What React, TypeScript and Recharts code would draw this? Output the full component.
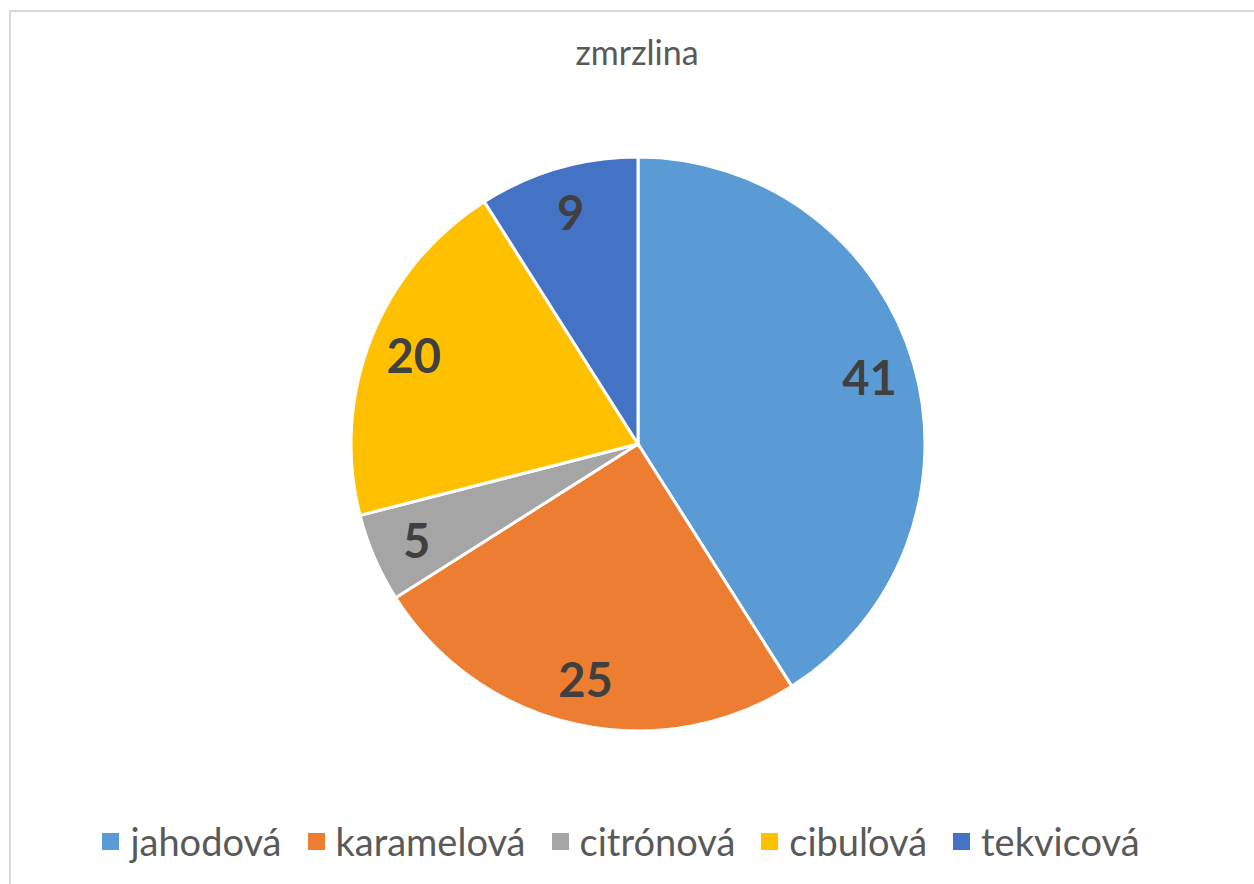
import React from 'react';
import { PieChart, Pie, Cell, Legend } from 'recharts';

// zmrzlina - pie chart with data labels
const flavors = ['jahodová', 'karamelová', 'citrónová', 'cibuľová', 'tekvicová'];
const counts = [41, 25, 5, 20, 9];
const colors = ['#5B9BD5', '#ED7D31', '#A5A5A5', '#FFC000', '#4472C4'];

const data = flavors.map((name, i) => ({ name, value: counts[i] }));

const RADIAN = Math.PI / 180;
const FONT = 'Lato, "Open Sans", sans-serif';

const renderLabel = (props: any) => {
  const { cx, cy, midAngle, outerRadius, value } = props;
  const r = outerRadius * 0.84;
  const x = cx + r * Math.cos(-midAngle * RADIAN);
  const y = cy + r * Math.sin(-midAngle * RADIAN);
  return (
    <text
      x={x}
      y={y}
      fill="#404040"
      textAnchor="middle"
      dominantBaseline="central"
      style={{ fontFamily: FONT, fontSize: 47, fontWeight: 700 }}
    >
      {value}
    </text>
  );
};

const renderLegend = () => (
  <div
    style={{
      display: 'flex',
      justifyContent: 'center',
      alignItems: 'center',
      gap: 26,
      fontFamily: FONT,
      fontSize: 38,
      color: '#595959',
      marginLeft: -12,
    }}
  >
    {flavors.map((name, i) => (
      <div key={name} style={{ display: 'flex', alignItems: 'center' }}>
        <span
          style={{
            display: 'inline-block',
            width: 17,
            height: 17,
            background: colors[i],
            marginRight: 11,
          }}
        />
        <span>{name}</span>
      </div>
    ))}
  </div>
);

export default function App() {
  return (
    <div
      style={{
        position: 'fixed',
        left: 0,
        top: 0,
        width: 1254,
        height: 884,
        overflow: 'hidden',
        background: '#fff',
      }}
    >
      <div
        style={{
          position: 'absolute',
          left: 9,
          top: 10,
          width: 1300,
          height: 900,
          border: '2px solid #d9d9d9',
        }}
      />
      <div
        style={{
          position: 'absolute',
          left: 0,
          top: 31,
          width: 1274,
          textAlign: 'center',
          fontFamily: FONT,
          fontSize: 34,
          color: '#595959',
        }}
      >
        zmrzlina
      </div>
      <div style={{ position: 'absolute', left: 0, top: 0 }}>
        <PieChart width={1254} height={884}>
          <Pie
            data={data}
            dataKey="value"
            nameKey="name"
            cx={633}
            cy={439}
            outerRadius={287}
            startAngle={90}
            endAngle={-270}
            stroke="#ffffff"
            strokeWidth={3}
            label={renderLabel}
            labelLine={false}
            isAnimationActive={false}
          >
            {data.map((d, i) => (
              <Cell key={d.name} fill={colors[i]} />
            ))}
          </Pie>
          <Legend
            content={renderLegend}
            wrapperStyle={{ position: 'absolute', top: 818, left: 0, width: 1254 }}
          />
        </PieChart>
      </div>
    </div>
  );
}
